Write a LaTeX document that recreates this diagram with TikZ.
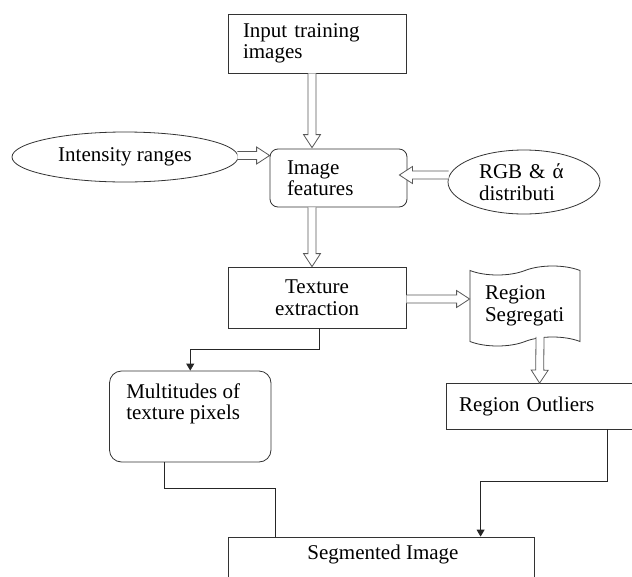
\documentclass[tikz,border=0pt]{standalone}
\usepackage{fontspec}
\setmainfont{Liberation Serif}
\usetikzlibrary{shapes.geometric,shapes.symbols,calc,arrows.meta}
\tikzset{
  box/.style={draw=black!80, line width=0.8pt, fill=white, inner ysep=0pt,
    font=\fontsize{21}{21.5}\selectfont},
  conn/.style={draw=black!85, line width=0.8pt},
  hollow/.style={draw=black!65, line width=0.8pt, fill=white, line join=miter},
  tip/.style={-{Triangle[width=8pt,length=7pt]}},
  txt/.style={inner sep=0pt, font=\fontsize{21}{21.5}\selectfont, align=left}
}
\newcommand\harrow[2]{%
  \path (#1) coordinate (ha1) (#2) coordinate (ha2);
  \pgfpointdiff{\pgfpointanchor{ha1}{center}}{\pgfpointanchor{ha2}{center}}%
  \pgfgetlastxy\hax\hay
  \pgfmathsetmacro\haang{atan2(\hay,\hax)}%
  \pgfmathsetmacro\halen{veclen(\hax,\hay)}%
  \begin{scope}[shift={(ha1)}, rotate=\haang, x=1pt, y=1pt]
    \draw[hollow] (0,-4) -- (\halen-13,-4) -- (\halen-13,-8.5) -- (\halen,0)
      -- (\halen-13,8.5) -- (\halen-13,4) -- (0,4);
  \end{scope}}
\begin{document}
\begin{tikzpicture}[x=1pt,y=-1pt]
\useasboundingbox (0,0) rectangle (632,576);
\clip (0,0) rectangle (632,576);
\fill[white] (0,0) rectangle (632,576);

% nodes
\node[box, rectangle, minimum width=178pt, minimum height=59pt, inner xsep=15pt,
  text width=148pt, align=left] (in) at (317,43.5) {Input training\\images};
\node[box, ellipse, minimum width=226pt, minimum height=50pt, inner sep=0pt]
  (int) at (125,157) {Intensity ranges};
\node[box, rectangle, rounded corners=8pt, minimum width=137pt, minimum height=58pt,
  inner xsep=17pt, text width=103pt, align=left] (feat) at (338.5,178) {Image\\features};
\node[box, ellipse, minimum width=152pt, minimum height=64pt, inner sep=0pt,
  text width=90pt, align=left] (rgb) at (524,182) {RGB \& ά\\distributi};
\node[box, rectangle, minimum width=178pt, minimum height=61pt, align=center]
  (tex) at (317,297.5) {Texture\\extraction};
\node[box, tape, tape bend height=9pt, minimum width=110pt, minimum height=80pt,
  inner xsep=15pt, text width=80pt, align=left] (seg) at (525,306) {Region\\Segregati};
\node[box, rectangle, minimum width=214pt, minimum height=45.5pt, inner xsep=13pt,
  text width=188pt, align=left] (out) at (553,406.25) {Region Outliers};
\node[box, rectangle, rounded corners=12pt, minimum width=161.5pt, minimum height=91pt]
  (mult) at (190.25,416.5) {};
\node[txt, anchor=west] (multtext) at ($(mult.west)+(17,-12.5)$)
  {Multitudes of\\texture pixels};
\node[box, rectangle, minimum width=306pt, minimum height=63pt] (segimg) at (381,568.5) {};
\node[txt] (segtext) at ($(segimg.north)+(2,18)$) {Segmented Image};

% hollow arrows
\harrow{$(in.south)+(-5,0)$}{$(feat.north)+(-26.5,-1)$}
\harrow{$(int.east)+(-1,-1.5)$}{$(feat.west)+(0,-22.5)$}
\harrow{$(rgb.west)+(1,-7)$}{$(feat.east)+(-8,-3)$}
\harrow{$(feat.south)+(-26.5,0)$}{$(tex.north)+(-5,0)$}
\harrow{$(tex.east)+(0,1.5)$}{$(seg.west)+(0,-7)$}
\harrow{$(seg.center)+(15,31)$}{$(out.north west)+(94,0)$}

% connectors
\draw[conn, tip] ($(tex.south)+(2,0)$) -- ++(0,21) -| (mult.north);
\draw[conn] ($(mult.south)+(-26,0)$) -- ++(0,26) -| ($(segimg.north west)+(48,0)$);
\draw[conn, tip] ($(out.south west)+(162,0)$) -- ++(0,52) -| ($(segimg.north west)+(253,0)$);
\end{tikzpicture}
\end{document}
